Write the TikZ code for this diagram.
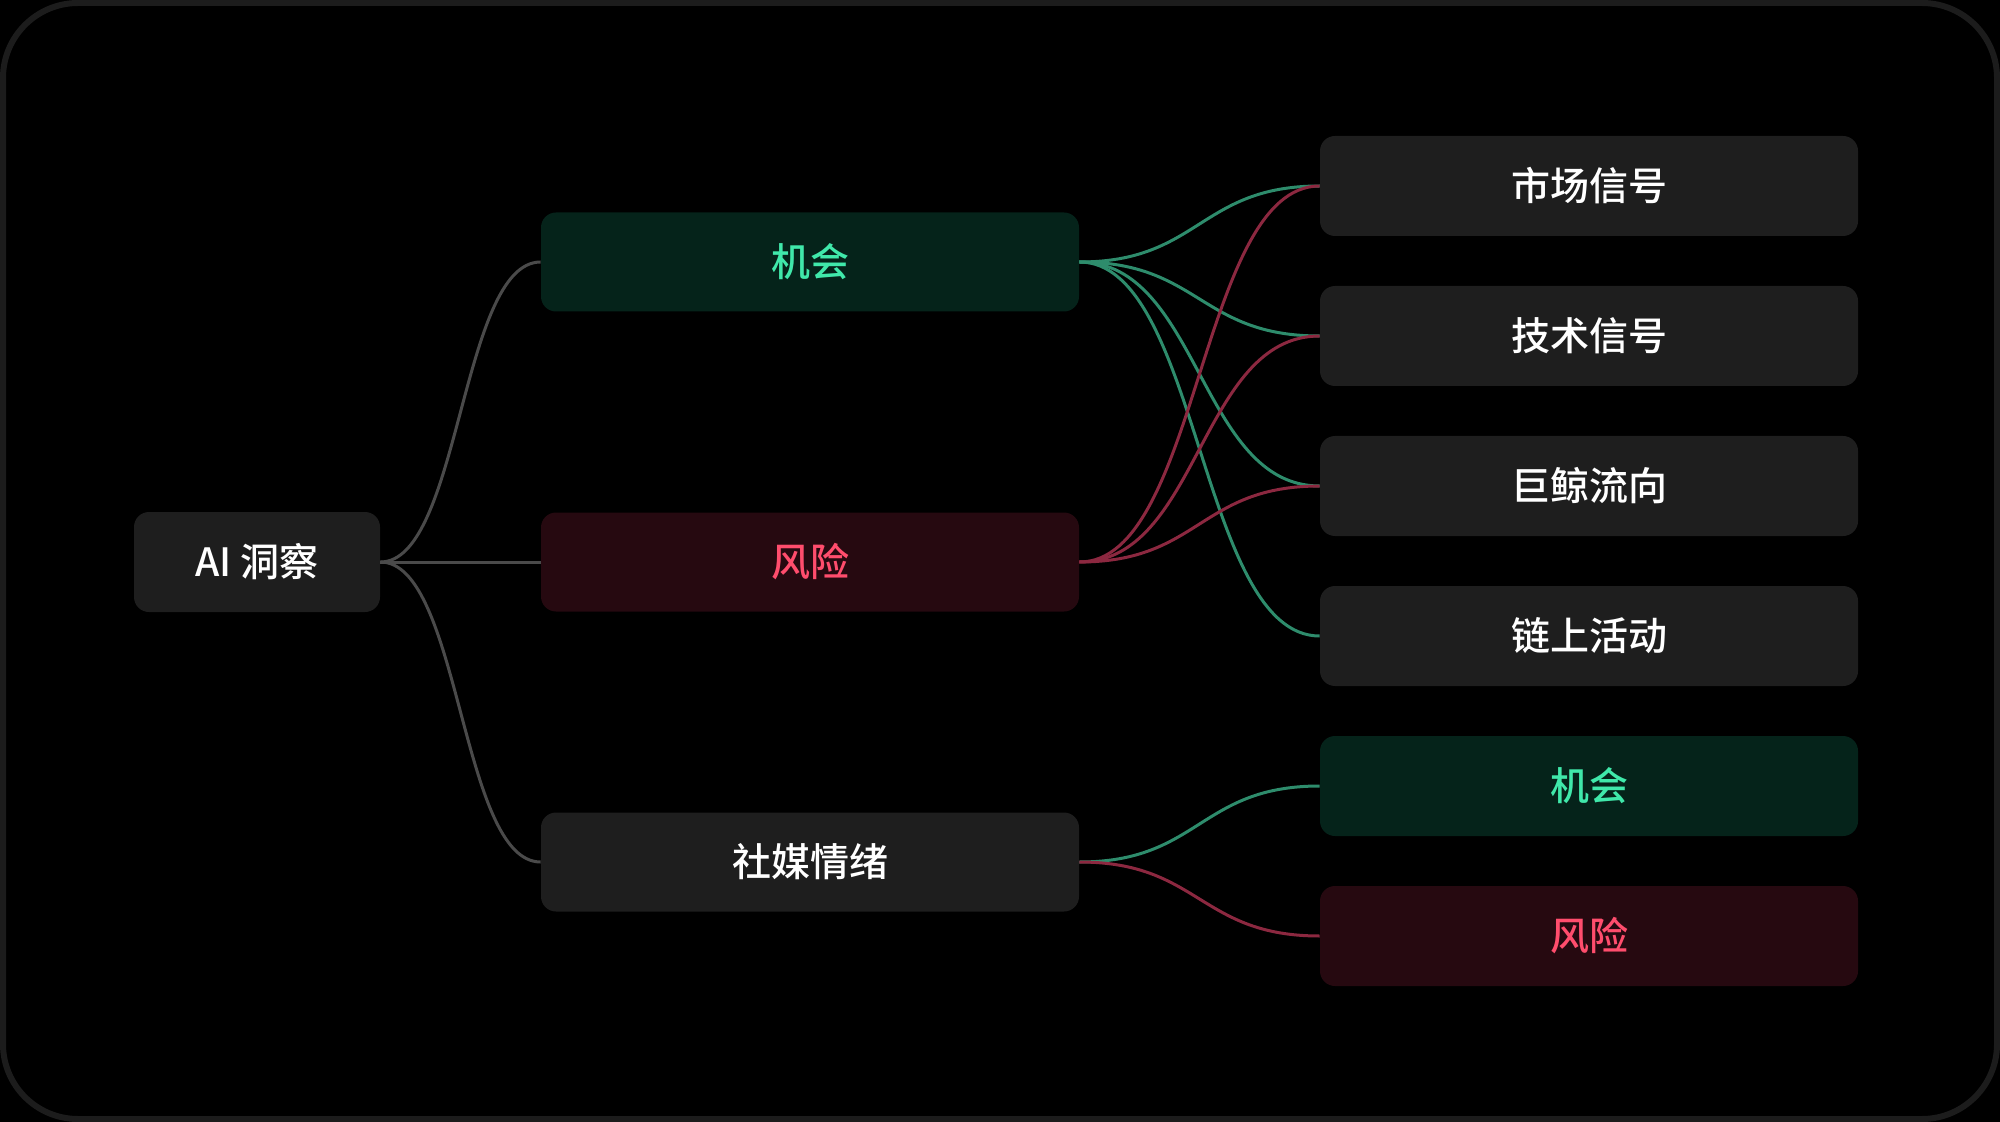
\documentclass[tikz,border=0pt]{standalone}
\usepackage{fontspec}
\setmainfont{Noto Sans CJK SC}
\newfontfamily\cjk{Noto Sans CJK SC}[UprightFont=* Medium]
\definecolor{bgc}{HTML}{000000}
\definecolor{framec}{HTML}{1C1C1C}
\definecolor{boxc}{HTML}{1E1E1E}
\definecolor{gfill}{HTML}{05231A}
\definecolor{rfill}{HTML}{260910}
\definecolor{gtext}{HTML}{40E8AA}
\definecolor{rtext}{HTML}{FF4D6D}
\definecolor{gline}{HTML}{2E8C6C}
\definecolor{rline}{HTML}{8C2840}
\definecolor{grayline}{HTML}{4A4A4A}
\tikzset{
  base/.style={rounded corners=7.5pt, inner sep=0pt, font=\cjk\fontsize{19.5}{22}\selectfont, text=white},
  rootbox/.style={base, fill=boxc, minimum width=123pt, minimum height=50pt},
  midbox/.style={base, fill=boxc, minimum width=269pt, minimum height=49.5pt},
  rightbox/.style={base, fill=boxc, minimum width=269pt, minimum height=50pt},
  gbox/.style={fill=gfill, text=gtext},
  rbox/.style={fill=rfill, text=rtext},
  glink/.style={draw=gline, line width=1.5pt},
  rlink/.style={draw=rline, line width=1.5pt},
  graylink/.style={draw=grayline, line width=1.5pt},
}
\begin{document}
\begin{tikzpicture}[x=0.5pt,y=-0.5pt]
\fill[bgc] (0,0) rectangle (2000,1122);
\useasboundingbox (0,0) rectangle (2000,1122);
\draw[framec, line width=3pt, rounded corners=37.5pt] (3,3) rectangle (1997,1119);

\node[rootbox] (ai) at (257,562) {AI 洞察};
\node[midbox,gbox] (opp) at (810,262) {机会};
\node[midbox,rbox] (risk) at (810,562) {风险};
\node[midbox] (social) at (810,862) {社媒情绪};

\node[rightbox] (mkt) at (1589,186) {市场信号};
\node[rightbox] (tech) at (1589,336) {技术信号};
\node[rightbox] (whale) at (1589,486) {巨鲸流向};
\node[rightbox] (chain) at (1589,636) {链上活动};
\node[rightbox,gbox] (opp2) at (1589,786) {机会};
\node[rightbox,rbox] (risk2) at (1589,936) {风险};

\draw[graylink] (ai.east) .. controls +(40pt,0) and +(-40pt,0) .. (opp.west);
\draw[graylink] (ai.east) -- (risk.west);
\draw[graylink] (ai.east) .. controls +(40pt,0) and +(-40pt,0) .. (social.west);

\draw[glink] (opp.east) .. controls +(60pt,0) and +(-60pt,0) .. (mkt.west);
\draw[glink] (opp.east) .. controls +(60pt,0) and +(-60pt,0) .. (tech.west);
\draw[glink] (opp.east) .. controls +(60pt,0) and +(-60pt,0) .. (whale.west);
\draw[glink] (opp.east) .. controls +(60pt,0) and +(-60pt,0) .. (chain.west);

\draw[rlink] (risk.east) .. controls +(60pt,0) and +(-60pt,0) .. (mkt.west);
\draw[rlink] (risk.east) .. controls +(60pt,0) and +(-60pt,0) .. (tech.west);
\draw[rlink] (risk.east) .. controls +(60pt,0) and +(-60pt,0) .. (whale.west);

\draw[glink] (social.east) .. controls +(60pt,0) and +(-60pt,0) .. (opp2.west);
\draw[rlink] (social.east) .. controls +(60pt,0) and +(-60pt,0) .. (risk2.west);
\end{tikzpicture}
\end{document}
